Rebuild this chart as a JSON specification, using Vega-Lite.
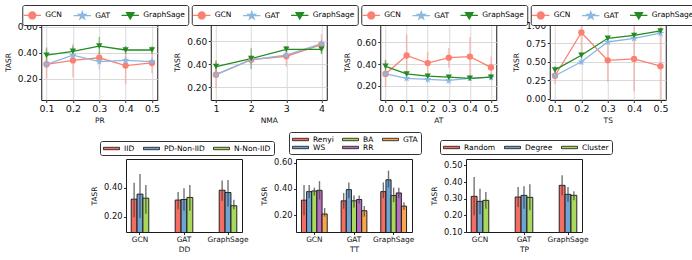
{
  "$schema": "https://vega.github.io/schema/vega-lite/v6.json",
  "padding": {"left": 3, "top": 4, "right": 0, "bottom": 0},
  "datasets": {
    "pr": [
      {"x":0.1,"m":"GCN","v":0.31,"lo":0.20,"hi":0.42},{"x":0.2,"m":"GCN","v":0.34,"lo":0.21,"hi":0.47},{"x":0.3,"m":"GCN","v":0.36,"lo":0.32,"hi":0.40},{"x":0.4,"m":"GCN","v":0.30,"lo":0.16,"hi":0.44},{"x":0.5,"m":"GCN","v":0.32,"lo":0.24,"hi":0.40},
      {"x":0.1,"m":"GAT","v":0.31,"lo":0.28,"hi":0.34},{"x":0.2,"m":"GAT","v":0.38,"lo":0.35,"hi":0.41},{"x":0.3,"m":"GAT","v":0.33,"lo":0.27,"hi":0.39},{"x":0.4,"m":"GAT","v":0.34,"lo":0.31,"hi":0.37},{"x":0.5,"m":"GAT","v":0.33,"lo":0.30,"hi":0.36},
      {"x":0.1,"m":"GraphSage","v":0.38,"lo":0.33,"hi":0.44},{"x":0.2,"m":"GraphSage","v":0.41,"lo":0.37,"hi":0.45},{"x":0.3,"m":"GraphSage","v":0.45,"lo":0.39,"hi":0.52},{"x":0.4,"m":"GraphSage","v":0.42,"lo":0.39,"hi":0.45},{"x":0.5,"m":"GraphSage","v":0.42,"lo":0.39,"hi":0.45}
    ],
    "nma": [
      {"x":1,"m":"GCN","v":0.31,"lo":0.19,"hi":0.43},{"x":2,"m":"GCN","v":0.44,"lo":0.40,"hi":0.48},{"x":3,"m":"GCN","v":0.47,"lo":0.38,"hi":0.56},{"x":4,"m":"GCN","v":0.57,"lo":0.49,"hi":0.66},
      {"x":1,"m":"GAT","v":0.31,"lo":0.29,"hi":0.33},{"x":2,"m":"GAT","v":0.44,"lo":0.41,"hi":0.47},{"x":3,"m":"GAT","v":0.48,"lo":0.45,"hi":0.51},{"x":4,"m":"GAT","v":0.58,"lo":0.55,"hi":0.61},
      {"x":1,"m":"GraphSage","v":0.38,"lo":0.33,"hi":0.43},{"x":2,"m":"GraphSage","v":0.45,"lo":0.36,"hi":0.54},{"x":3,"m":"GraphSage","v":0.53,"lo":0.50,"hi":0.56},{"x":4,"m":"GraphSage","v":0.53,"lo":0.49,"hi":0.57}
    ],
    "at": [
      {"x":0.0,"m":"GCN","v":0.31,"lo":0.19,"hi":0.43},{"x":0.1,"m":"GCN","v":0.48,"lo":0.30,"hi":0.67},{"x":0.2,"m":"GCN","v":0.41,"lo":0.31,"hi":0.51},{"x":0.3,"m":"GCN","v":0.46,"lo":0.37,"hi":0.55},{"x":0.4,"m":"GCN","v":0.47,"lo":0.28,"hi":0.65},{"x":0.5,"m":"GCN","v":0.37,"lo":0.27,"hi":0.47},
      {"x":0.0,"m":"GAT","v":0.31,"lo":0.28,"hi":0.34},{"x":0.1,"m":"GAT","v":0.27,"lo":0.24,"hi":0.30},{"x":0.2,"m":"GAT","v":0.26,"lo":0.23,"hi":0.29},{"x":0.3,"m":"GAT","v":0.25,"lo":0.22,"hi":0.28},{"x":0.4,"m":"GAT","v":0.27,"lo":0.25,"hi":0.30},{"x":0.5,"m":"GAT","v":0.28,"lo":0.25,"hi":0.31},
      {"x":0.0,"m":"GraphSage","v":0.38,"lo":0.33,"hi":0.44},{"x":0.1,"m":"GraphSage","v":0.31,"lo":0.29,"hi":0.33},{"x":0.2,"m":"GraphSage","v":0.29,"lo":0.27,"hi":0.31},{"x":0.3,"m":"GraphSage","v":0.28,"lo":0.26,"hi":0.30},{"x":0.4,"m":"GraphSage","v":0.27,"lo":0.25,"hi":0.29},{"x":0.5,"m":"GraphSage","v":0.28,"lo":0.26,"hi":0.31}
    ],
    "ts": [
      {"x":0.1,"m":"GCN","v":0.31,"lo":0.20,"hi":0.42},{"x":0.2,"m":"GCN","v":0.90,"lo":0.62,"hi":1.18},{"x":0.3,"m":"GCN","v":0.52,"lo":0.23,"hi":0.81},{"x":0.4,"m":"GCN","v":0.54,"lo":0.10,"hi":0.98},{"x":0.5,"m":"GCN","v":0.44,"lo":-0.10,"hi":0.98},
      {"x":0.1,"m":"GAT","v":0.31,"lo":0.28,"hi":0.34},{"x":0.2,"m":"GAT","v":0.50,"lo":0.45,"hi":0.55},{"x":0.3,"m":"GAT","v":0.77,"lo":0.74,"hi":0.80},{"x":0.4,"m":"GAT","v":0.82,"lo":0.79,"hi":0.85},{"x":0.5,"m":"GAT","v":0.89,"lo":0.86,"hi":0.92},
      {"x":0.1,"m":"GraphSage","v":0.39,"lo":0.34,"hi":0.44},{"x":0.2,"m":"GraphSage","v":0.59,"lo":0.55,"hi":0.63},{"x":0.3,"m":"GraphSage","v":0.82,"lo":0.79,"hi":0.85},{"x":0.4,"m":"GraphSage","v":0.86,"lo":0.82,"hi":0.90},{"x":0.5,"m":"GraphSage","v":0.92,"lo":0.89,"hi":0.95}
    ],
    "dd": [
      {"model":"GCN","t":"IID","v":0.32,"lo":0.195,"hi":0.434},{"model":"GCN","t":"PD-Non-IID","v":0.355,"lo":0.19,"hi":0.495},{"model":"GCN","t":"N-Non-IID","v":0.327,"lo":0.22,"hi":0.418},
      {"model":"GAT","t":"IID","v":0.314,"lo":0.25,"hi":0.37},{"model":"GAT","t":"PD-Non-IID","v":0.318,"lo":0.24,"hi":0.395},{"model":"GAT","t":"N-Non-IID","v":0.332,"lo":0.24,"hi":0.418},
      {"model":"GraphSage","t":"IID","v":0.382,"lo":0.31,"hi":0.45},{"model":"GraphSage","t":"PD-Non-IID","v":0.366,"lo":0.27,"hi":0.452},{"model":"GraphSage","t":"N-Non-IID","v":0.275,"lo":0.25,"hi":0.316}
    ],
    "tt": [
      {"model":"GCN","t":"Renyi","v":0.315,"lo":0.20,"hi":0.43},{"model":"GCN","t":"WS","v":0.38,"lo":0.33,"hi":0.43},{"model":"GCN","t":"BA","v":0.385,"lo":0.35,"hi":0.41},{"model":"GCN","t":"RR","v":0.39,"lo":0.32,"hi":0.46},{"model":"GCN","t":"GTA","v":0.21,"lo":0.19,"hi":0.255},
      {"model":"GAT","t":"Renyi","v":0.31,"lo":0.25,"hi":0.37},{"model":"GAT","t":"WS","v":0.395,"lo":0.33,"hi":0.45},{"model":"GAT","t":"BA","v":0.31,"lo":0.26,"hi":0.35},{"model":"GAT","t":"RR","v":0.32,"lo":0.29,"hi":0.35},{"model":"GAT","t":"GTA","v":0.235,"lo":0.19,"hi":0.27},
      {"model":"GraphSage","t":"Renyi","v":0.38,"lo":0.33,"hi":0.45},{"model":"GraphSage","t":"WS","v":0.47,"lo":0.41,"hi":0.54},{"model":"GraphSage","t":"BA","v":0.35,"lo":0.30,"hi":0.41},{"model":"GraphSage","t":"RR","v":0.37,"lo":0.33,"hi":0.41},{"model":"GraphSage","t":"GTA","v":0.27,"lo":0.24,"hi":0.30}
    ],
    "tp": [
      {"model":"GCN","t":"Random","v":0.314,"lo":0.20,"hi":0.43},{"model":"GCN","t":"Degree","v":0.284,"lo":0.206,"hi":0.36},{"model":"GCN","t":"Cluster","v":0.29,"lo":0.24,"hi":0.34},
      {"model":"GAT","t":"Random","v":0.31,"lo":0.25,"hi":0.37},{"model":"GAT","t":"Degree","v":0.32,"lo":0.24,"hi":0.374},{"model":"GAT","t":"Cluster","v":0.308,"lo":0.23,"hi":0.386},
      {"model":"GraphSage","t":"Random","v":0.38,"lo":0.32,"hi":0.44},{"model":"GraphSage","t":"Degree","v":0.326,"lo":0.28,"hi":0.37},{"model":"GraphSage","t":"Cluster","v":0.32,"lo":0.29,"hi":0.344}
    ]
  },
  "vconcat": [
    {
      "hconcat": [
        {
          "width": 116, "height": 76, "data": {"name": "pr"},
          "encoding": {
            "x": {"field": "x", "type": "quantitative", "scale": {"domain": [0.08, 0.52], "nice": false, "zero": false}, "axis": {"title": "PR", "values": [0.1,0.2,0.3,0.4,0.5], "format": ".1f", "labelFontSize": 9.5, "titleFontSize": 7.5, "grid": true}},
            "color": {"field": "m", "type": "nominal", "scale": {"domain": ["GCN","GAT","GraphSage"], "range": ["#fa8072","#8ab8e0","#228b22"]},
              "legend": {"orient": "none", "legendX": -19, "legendY": -19, "direction": "horizontal", "title": null, "labelFontSize": 7.5, "symbolSize": 144, "labelOffset": 6, "columnPadding": 8, "padding": 3, "strokeColor": "#333", "fillColor": "white", "cornerRadius": 2,
                "encode": {"symbols": {"update": {
                  "shape": {"signal": "datum.value === 'GCN' ? 'M-1.45,0H1.45M0.58,0A0.58,0.58 0 1,1 -0.58,0A0.58,0.58 0 1,1 0.58,0Z' : datum.value === 'GAT' ? 'M-1.45,0H1.45M0,-0.65L0.153,-0.211L0.618,-0.201L0.247,0.081L0.382,0.526L0,0.26L-0.382,0.526L-0.247,0.081L-0.618,-0.201L-0.153,-0.211Z' : 'M-1.45,0H1.45M-0.62,-0.45L0.62,-0.45L0,0.62Z'"},
                  "fill": {"signal": "datum.value === 'GCN' ? '#fa8072' : datum.value === 'GAT' ? '#8ab8e0' : '#228b22'"},
                  "stroke": {"signal": "datum.value === 'GCN' ? '#fa8072' : datum.value === 'GAT' ? '#8ab8e0' : '#228b22'"},
                  "strokeWidth": {"value": 1.3}, "opacity": {"value": 1}}}}}}
          },
          "layer": [
            {"mark": {"type": "rule", "strokeWidth": 1.5, "opacity": 0.45, "clip": true}, "encoding": {"y": {"field": "lo", "type": "quantitative", "scale": {"domain": [0.035, 0.62], "nice": false, "zero": false}, "axis": {"title": "TASR", "values": [0.2,0.4,0.6], "format": ".2f", "labelFontSize": 9, "titleFontSize": 7.5, "grid": true}}, "y2": {"field": "hi"}}},
            {"mark": {"type": "line", "strokeWidth": 1.3}, "encoding": {"y": {"field": "v", "type": "quantitative", "scale": {"domain": [0.035, 0.62], "nice": false, "zero": false}, "axis": {"title": "TASR", "values": [0.2,0.4,0.6], "format": ".2f", "labelFontSize": 9, "titleFontSize": 7.5, "grid": true}}}},
            {"transform": [{"filter": "datum.m === 'GCN'"}], "mark": {"type": "point", "filled": true, "size": 40, "opacity": 1, "shape": "circle"}, "encoding": {"y": {"field": "v", "type": "quantitative", "scale": {"domain": [0.035, 0.62], "nice": false, "zero": false}, "axis": {"title": "TASR", "values": [0.2,0.4,0.6], "format": ".2f", "labelFontSize": 9, "titleFontSize": 7.5, "grid": true}}}},
            {"transform": [{"filter": "datum.m === 'GAT'"}], "mark": {"type": "point", "filled": true, "size": 40, "opacity": 1, "shape": "M0,-1.25L0.294,-0.405L1.189,-0.386L0.475,0.155L0.735,1.011L0,0.5L-0.735,1.011L-0.475,0.155L-1.189,-0.386L-0.294,-0.405Z"}, "encoding": {"y": {"field": "v", "type": "quantitative", "scale": {"domain": [0.035, 0.62], "nice": false, "zero": false}, "axis": {"title": "TASR", "values": [0.2,0.4,0.6], "format": ".2f", "labelFontSize": 9, "titleFontSize": 7.5, "grid": true}}}},
            {"transform": [{"filter": "datum.m === 'GraphSage'"}], "mark": {"type": "point", "filled": true, "size": 40, "opacity": 1, "shape": "triangle-down"}, "encoding": {"y": {"field": "v", "type": "quantitative", "scale": {"domain": [0.035, 0.62], "nice": false, "zero": false}, "axis": {"title": "TASR", "values": [0.2,0.4,0.6], "format": ".2f", "labelFontSize": 9, "titleFontSize": 7.5, "grid": true}}}}
          ]
        },
        {
          "width": 116, "height": 76, "data": {"name": "nma"},
          "encoding": {
            "x": {"field": "x", "type": "quantitative", "scale": {"domain": [0.85, 4.15], "nice": false, "zero": false}, "axis": {"title": "NMA", "values": [1,2,3,4], "format": "d", "labelFontSize": 9.5, "titleFontSize": 7.5, "grid": true}},
            "color": {"field": "m", "type": "nominal", "scale": {"domain": ["GCN","GAT","GraphSage"], "range": ["#fa8072","#8ab8e0","#228b22"]},
              "legend": {"orient": "none", "legendX": -19, "legendY": -19, "direction": "horizontal", "title": null, "labelFontSize": 7.5, "symbolSize": 144, "labelOffset": 6, "columnPadding": 8, "padding": 3, "strokeColor": "#333", "fillColor": "white", "cornerRadius": 2,
                "encode": {"symbols": {"update": {
                  "shape": {"signal": "datum.value === 'GCN' ? 'M-1.45,0H1.45M0.58,0A0.58,0.58 0 1,1 -0.58,0A0.58,0.58 0 1,1 0.58,0Z' : datum.value === 'GAT' ? 'M-1.45,0H1.45M0,-0.65L0.153,-0.211L0.618,-0.201L0.247,0.081L0.382,0.526L0,0.26L-0.382,0.526L-0.247,0.081L-0.618,-0.201L-0.153,-0.211Z' : 'M-1.45,0H1.45M-0.62,-0.45L0.62,-0.45L0,0.62Z'"},
                  "fill": {"signal": "datum.value === 'GCN' ? '#fa8072' : datum.value === 'GAT' ? '#8ab8e0' : '#228b22'"},
                  "stroke": {"signal": "datum.value === 'GCN' ? '#fa8072' : datum.value === 'GAT' ? '#8ab8e0' : '#228b22'"},
                  "strokeWidth": {"value": 1.3}, "opacity": {"value": 1}}}}}}
          },
          "layer": [
            {"mark": {"type": "rule", "strokeWidth": 1.5, "opacity": 0.45, "clip": true}, "encoding": {"y": {"field": "lo", "type": "quantitative", "scale": {"domain": [0.09, 0.75], "nice": false, "zero": false}, "axis": {"title": "TASR", "values": [0.2,0.4,0.6], "format": ".2f", "labelFontSize": 9, "titleFontSize": 7.5, "grid": true}}, "y2": {"field": "hi"}}},
            {"mark": {"type": "line", "strokeWidth": 1.3}, "encoding": {"y": {"field": "v", "type": "quantitative", "scale": {"domain": [0.09, 0.75], "nice": false, "zero": false}, "axis": {"title": "TASR", "values": [0.2,0.4,0.6], "format": ".2f", "labelFontSize": 9, "titleFontSize": 7.5, "grid": true}}}},
            {"transform": [{"filter": "datum.m === 'GCN'"}], "mark": {"type": "point", "filled": true, "size": 40, "opacity": 1, "shape": "circle"}, "encoding": {"y": {"field": "v", "type": "quantitative", "scale": {"domain": [0.09, 0.75], "nice": false, "zero": false}, "axis": {"title": "TASR", "values": [0.2,0.4,0.6], "format": ".2f", "labelFontSize": 9, "titleFontSize": 7.5, "grid": true}}}},
            {"transform": [{"filter": "datum.m === 'GAT'"}], "mark": {"type": "point", "filled": true, "size": 40, "opacity": 1, "shape": "M0,-1.25L0.294,-0.405L1.189,-0.386L0.475,0.155L0.735,1.011L0,0.5L-0.735,1.011L-0.475,0.155L-1.189,-0.386L-0.294,-0.405Z"}, "encoding": {"y": {"field": "v", "type": "quantitative", "scale": {"domain": [0.09, 0.75], "nice": false, "zero": false}, "axis": {"title": "TASR", "values": [0.2,0.4,0.6], "format": ".2f", "labelFontSize": 9, "titleFontSize": 7.5, "grid": true}}}},
            {"transform": [{"filter": "datum.m === 'GraphSage'"}], "mark": {"type": "point", "filled": true, "size": 40, "opacity": 1, "shape": "triangle-down"}, "encoding": {"y": {"field": "v", "type": "quantitative", "scale": {"domain": [0.09, 0.75], "nice": false, "zero": false}, "axis": {"title": "TASR", "values": [0.2,0.4,0.6], "format": ".2f", "labelFontSize": 9, "titleFontSize": 7.5, "grid": true}}}}
          ]
        },
        {
          "width": 116, "height": 76, "data": {"name": "at"},
          "encoding": {
            "x": {"field": "x", "type": "quantitative", "scale": {"domain": [-0.025, 0.525], "nice": false, "zero": false}, "axis": {"title": "AT", "values": [0,0.1,0.2,0.3,0.4,0.5], "format": ".1f", "labelFontSize": 9.5, "titleFontSize": 7.5, "grid": true}},
            "color": {"field": "m", "type": "nominal", "scale": {"domain": ["GCN","GAT","GraphSage"], "range": ["#fa8072","#8ab8e0","#228b22"]},
              "legend": {"orient": "none", "legendX": -19, "legendY": -19, "direction": "horizontal", "title": null, "labelFontSize": 7.5, "symbolSize": 144, "labelOffset": 6, "columnPadding": 8, "padding": 3, "strokeColor": "#333", "fillColor": "white", "cornerRadius": 2,
                "encode": {"symbols": {"update": {
                  "shape": {"signal": "datum.value === 'GCN' ? 'M-1.45,0H1.45M0.58,0A0.58,0.58 0 1,1 -0.58,0A0.58,0.58 0 1,1 0.58,0Z' : datum.value === 'GAT' ? 'M-1.45,0H1.45M0,-0.65L0.153,-0.211L0.618,-0.201L0.247,0.081L0.382,0.526L0,0.26L-0.382,0.526L-0.247,0.081L-0.618,-0.201L-0.153,-0.211Z' : 'M-1.45,0H1.45M-0.62,-0.45L0.62,-0.45L0,0.62Z'"},
                  "fill": {"signal": "datum.value === 'GCN' ? '#fa8072' : datum.value === 'GAT' ? '#8ab8e0' : '#228b22'"},
                  "stroke": {"signal": "datum.value === 'GCN' ? '#fa8072' : datum.value === 'GAT' ? '#8ab8e0' : '#228b22'"},
                  "strokeWidth": {"value": 1.3}, "opacity": {"value": 1}}}}}}
          },
          "layer": [
            {"mark": {"type": "rule", "strokeWidth": 1.5, "opacity": 0.45, "clip": true}, "encoding": {"y": {"field": "lo", "type": "quantitative", "scale": {"domain": [0.07, 0.77], "nice": false, "zero": false}, "axis": {"title": "TASR", "values": [0.2,0.4,0.6], "format": ".2f", "labelFontSize": 9, "titleFontSize": 7.5, "grid": true}}, "y2": {"field": "hi"}}},
            {"mark": {"type": "line", "strokeWidth": 1.3}, "encoding": {"y": {"field": "v", "type": "quantitative", "scale": {"domain": [0.07, 0.77], "nice": false, "zero": false}, "axis": {"title": "TASR", "values": [0.2,0.4,0.6], "format": ".2f", "labelFontSize": 9, "titleFontSize": 7.5, "grid": true}}}},
            {"transform": [{"filter": "datum.m === 'GCN'"}], "mark": {"type": "point", "filled": true, "size": 40, "opacity": 1, "shape": "circle"}, "encoding": {"y": {"field": "v", "type": "quantitative", "scale": {"domain": [0.07, 0.77], "nice": false, "zero": false}, "axis": {"title": "TASR", "values": [0.2,0.4,0.6], "format": ".2f", "labelFontSize": 9, "titleFontSize": 7.5, "grid": true}}}},
            {"transform": [{"filter": "datum.m === 'GAT'"}], "mark": {"type": "point", "filled": true, "size": 40, "opacity": 1, "shape": "M0,-1.25L0.294,-0.405L1.189,-0.386L0.475,0.155L0.735,1.011L0,0.5L-0.735,1.011L-0.475,0.155L-1.189,-0.386L-0.294,-0.405Z"}, "encoding": {"y": {"field": "v", "type": "quantitative", "scale": {"domain": [0.07, 0.77], "nice": false, "zero": false}, "axis": {"title": "TASR", "values": [0.2,0.4,0.6], "format": ".2f", "labelFontSize": 9, "titleFontSize": 7.5, "grid": true}}}},
            {"transform": [{"filter": "datum.m === 'GraphSage'"}], "mark": {"type": "point", "filled": true, "size": 40, "opacity": 1, "shape": "triangle-down"}, "encoding": {"y": {"field": "v", "type": "quantitative", "scale": {"domain": [0.07, 0.77], "nice": false, "zero": false}, "axis": {"title": "TASR", "values": [0.2,0.4,0.6], "format": ".2f", "labelFontSize": 9, "titleFontSize": 7.5, "grid": true}}}}
          ]
        },
        {
          "width": 116, "height": 76, "data": {"name": "ts"},
          "encoding": {
            "x": {"field": "x", "type": "quantitative", "scale": {"domain": [0.08, 0.52], "nice": false, "zero": false}, "axis": {"title": "TS", "values": [0.1,0.2,0.3,0.4,0.5], "format": ".1f", "labelFontSize": 9.5, "titleFontSize": 7.5, "grid": true}},
            "color": {"field": "m", "type": "nominal", "scale": {"domain": ["GCN","GAT","GraphSage"], "range": ["#fa8072","#8ab8e0","#228b22"]},
              "legend": {"orient": "none", "legendX": -19, "legendY": -19, "direction": "horizontal", "title": null, "labelFontSize": 7.5, "symbolSize": 144, "labelOffset": 6, "columnPadding": 8, "padding": 3, "strokeColor": "#333", "fillColor": "white", "cornerRadius": 2,
                "encode": {"symbols": {"update": {
                  "shape": {"signal": "datum.value === 'GCN' ? 'M-1.45,0H1.45M0.58,0A0.58,0.58 0 1,1 -0.58,0A0.58,0.58 0 1,1 0.58,0Z' : datum.value === 'GAT' ? 'M-1.45,0H1.45M0,-0.65L0.153,-0.211L0.618,-0.201L0.247,0.081L0.382,0.526L0,0.26L-0.382,0.526L-0.247,0.081L-0.618,-0.201L-0.153,-0.211Z' : 'M-1.45,0H1.45M-0.62,-0.45L0.62,-0.45L0,0.62Z'"},
                  "fill": {"signal": "datum.value === 'GCN' ? '#fa8072' : datum.value === 'GAT' ? '#8ab8e0' : '#228b22'"},
                  "stroke": {"signal": "datum.value === 'GCN' ? '#fa8072' : datum.value === 'GAT' ? '#8ab8e0' : '#228b22'"},
                  "strokeWidth": {"value": 1.3}, "opacity": {"value": 1}}}}}}
          },
          "layer": [
            {"mark": {"type": "rule", "strokeWidth": 1.5, "opacity": 0.45, "clip": true}, "encoding": {"y": {"field": "lo", "type": "quantitative", "scale": {"domain": [-0.02, 1.015], "nice": false, "zero": false}, "axis": {"title": "TASR", "values": [0,0.25,0.5,0.75,1], "format": ".2f", "labelFontSize": 9, "titleFontSize": 7.5, "grid": true}}, "y2": {"field": "hi"}}},
            {"mark": {"type": "line", "strokeWidth": 1.3}, "encoding": {"y": {"field": "v", "type": "quantitative", "scale": {"domain": [-0.02, 1.015], "nice": false, "zero": false}, "axis": {"title": "TASR", "values": [0,0.25,0.5,0.75,1], "format": ".2f", "labelFontSize": 9, "titleFontSize": 7.5, "grid": true}}}},
            {"transform": [{"filter": "datum.m === 'GCN'"}], "mark": {"type": "point", "filled": true, "size": 40, "opacity": 1, "shape": "circle"}, "encoding": {"y": {"field": "v", "type": "quantitative", "scale": {"domain": [-0.02, 1.015], "nice": false, "zero": false}, "axis": {"title": "TASR", "values": [0,0.25,0.5,0.75,1], "format": ".2f", "labelFontSize": 9, "titleFontSize": 7.5, "grid": true}}}},
            {"transform": [{"filter": "datum.m === 'GAT'"}], "mark": {"type": "point", "filled": true, "size": 40, "opacity": 1, "shape": "M0,-1.25L0.294,-0.405L1.189,-0.386L0.475,0.155L0.735,1.011L0,0.5L-0.735,1.011L-0.475,0.155L-1.189,-0.386L-0.294,-0.405Z"}, "encoding": {"y": {"field": "v", "type": "quantitative", "scale": {"domain": [-0.02, 1.015], "nice": false, "zero": false}, "axis": {"title": "TASR", "values": [0,0.25,0.5,0.75,1], "format": ".2f", "labelFontSize": 9, "titleFontSize": 7.5, "grid": true}}}},
            {"transform": [{"filter": "datum.m === 'GraphSage'"}], "mark": {"type": "point", "filled": true, "size": 40, "opacity": 1, "shape": "triangle-down"}, "encoding": {"y": {"field": "v", "type": "quantitative", "scale": {"domain": [-0.02, 1.015], "nice": false, "zero": false}, "axis": {"title": "TASR", "values": [0,0.25,0.5,0.75,1], "format": ".2f", "labelFontSize": 9, "titleFontSize": 7.5, "grid": true}}}}
          ]
        }
      ],
      "spacing": 53.5, "bounds": "flush",
      "resolve": {"scale": {"x": "independent", "y": "independent", "color": "independent"}, "legend": {"color": "independent"}}
    },
    {
      "hconcat": [
        {
          "width": 116, "height": 73, "data": {"name": "dd"},
          "encoding": {
            "x": {"field": "model", "type": "nominal", "sort": ["GCN","GAT","GraphSage"], "scale": {"paddingInner": 0.6, "paddingOuter": 0.118}, "axis": {"title": "DD", "labelAngle": 0, "labelFontSize": 7.4, "titleFontSize": 7.5, "grid": false}},
            "xOffset": {"field": "t", "type": "nominal", "sort": ["IID","PD-Non-IID","N-Non-IID"], "scale": {"paddingInner": 0, "paddingOuter": 0}},
            "color": {"field": "t", "type": "nominal", "scale": {"domain": ["IID","PD-Non-IID","N-Non-IID"], "range": ["#f46d63","#6fa3d2","#a8d85c"]},
              "legend": {"orient": "none", "legendX": -26, "legendY": -18, "direction": "horizontal", "title": null, "labelFontSize": 7.5, "symbolSize": 64, "symbolType": "M-2,-0.3H2V0.3H-2Z", "symbolStrokeColor": "#111", "symbolStrokeWidth": 0.8, "symbolOffset": 4, "labelOffset": 8, "columnPadding": 6, "padding": 3, "strokeColor": "#333", "fillColor": "white", "cornerRadius": 2}}
          },
          "layer": [
            {"mark": {"type": "bar", "stroke": "#111", "strokeWidth": 0.9, "clip": true}, "encoding": {"y": {"field": "v", "type": "quantitative", "scale": {"domain": [0.093, 0.598], "nice": false, "zero": false}, "axis": {"title": "TASR", "values": [0.2,0.4], "format": ".2f", "labelFontSize": 8.3, "titleFontSize": 7.5, "grid": false}}}},
            {"mark": {"type": "rule", "strokeWidth": 1.4, "opacity": 0.75}, "encoding": {"color": {"value": "#444"}, "y": {"field": "lo", "type": "quantitative", "scale": {"domain": [0.093, 0.598], "nice": false, "zero": false}, "axis": {"title": "TASR", "values": [0.2,0.4], "format": ".2f", "labelFontSize": 8.3, "titleFontSize": 7.5, "grid": false}}, "y2": {"field": "hi"}}}
          ]
        },
        {
          "width": 116, "height": 73, "data": {"name": "tt"},
          "encoding": {
            "x": {"field": "model", "type": "nominal", "sort": ["GCN","GAT","GraphSage"], "scale": {"paddingInner": 0.35, "paddingOuter": 0.1375}, "axis": {"title": "TT", "labelAngle": 0, "labelFontSize": 7.4, "titleFontSize": 7.5, "grid": false}},
            "xOffset": {"field": "t", "type": "nominal", "sort": ["Renyi","WS","BA","RR","GTA"], "scale": {"paddingInner": 0, "paddingOuter": 0}},
            "color": {"field": "t", "type": "nominal", "scale": {"domain": ["Renyi","BA","GTA","WS","RR"], "range": ["#f46d63","#a8d85c","#f8a84b","#6fa3d2","#b96dbf"]},
              "legend": {"orient": "none", "legendX": -7, "legendY": -27, "direction": "horizontal", "columns": 3, "title": null, "labelFontSize": 7.5, "symbolSize": 64, "symbolType": "M-2,-0.3H2V0.3H-2Z", "symbolStrokeColor": "#111", "symbolStrokeWidth": 0.8, "symbolOffset": 4, "labelOffset": 8, "columnPadding": 6, "rowPadding": 0, "padding": 3, "strokeColor": "#333", "fillColor": "white", "cornerRadius": 2}}
          },
          "layer": [
            {"mark": {"type": "bar", "stroke": "#111", "strokeWidth": 0.9, "clip": true}, "encoding": {"y": {"field": "v", "type": "quantitative", "scale": {"domain": [0.073, 0.628], "nice": false, "zero": false}, "axis": {"title": "TASR", "values": [0.2,0.4,0.6], "format": ".2f", "labelFontSize": 8.3, "titleFontSize": 7.5, "grid": false}}}},
            {"mark": {"type": "rule", "strokeWidth": 1.4, "opacity": 0.75}, "encoding": {"color": {"value": "#444"}, "y": {"field": "lo", "type": "quantitative", "scale": {"domain": [0.073, 0.628], "nice": false, "zero": false}, "axis": {"title": "TASR", "values": [0.2,0.4,0.6], "format": ".2f", "labelFontSize": 8.3, "titleFontSize": 7.5, "grid": false}}, "y2": {"field": "hi"}}}
          ]
        },
        {
          "width": 116, "height": 73, "data": {"name": "tp"},
          "encoding": {
            "x": {"field": "model", "type": "nominal", "sort": ["GCN","GAT","GraphSage"], "scale": {"paddingInner": 0.6, "paddingOuter": 0.118}, "axis": {"title": "TP", "labelAngle": 0, "labelFontSize": 7.4, "titleFontSize": 7.5, "grid": false}},
            "xOffset": {"field": "t", "type": "nominal", "sort": ["Random","Degree","Cluster"], "scale": {"paddingInner": 0, "paddingOuter": 0}},
            "color": {"field": "t", "type": "nominal", "scale": {"domain": ["Random","Degree","Cluster"], "range": ["#f46d63","#6fa3d2","#a8d85c"]},
              "legend": {"orient": "none", "legendX": -26, "legendY": -19, "direction": "horizontal", "title": null, "labelFontSize": 7.5, "symbolSize": 64, "symbolType": "M-2,-0.3H2V0.3H-2Z", "symbolStrokeColor": "#111", "symbolStrokeWidth": 0.8, "symbolOffset": 4, "labelOffset": 8, "columnPadding": 6, "padding": 3, "strokeColor": "#333", "fillColor": "white", "cornerRadius": 2}}
          },
          "layer": [
            {"mark": {"type": "bar", "stroke": "#111", "strokeWidth": 0.9, "clip": true}, "encoding": {"y": {"field": "v", "type": "quantitative", "scale": {"domain": [0.1, 0.538], "nice": false, "zero": false}, "axis": {"title": "TASR", "values": [0.1,0.2,0.3,0.4,0.5], "format": ".2f", "labelFontSize": 8.3, "titleFontSize": 7.5, "grid": false}}}},
            {"mark": {"type": "rule", "strokeWidth": 1.4, "opacity": 0.75}, "encoding": {"color": {"value": "#444"}, "y": {"field": "lo", "type": "quantitative", "scale": {"domain": [0.1, 0.538], "nice": false, "zero": false}, "axis": {"title": "TASR", "values": [0.1,0.2,0.3,0.4,0.5], "format": ".2f", "labelFontSize": 8.3, "titleFontSize": 7.5, "grid": false}}, "y2": {"field": "hi"}}}
          ]
        }
      ],
      "spacing": 54, "bounds": "flush",
      "resolve": {"scale": {"x": "independent", "y": "independent", "color": "independent", "xOffset": "independent"}, "legend": {"color": "independent"}}
    }
  ],
  "spacing": 7, "center": true,
  "resolve": {"scale": {"x": "independent", "y": "independent", "color": "independent", "xOffset": "independent"}, "legend": {"color": "independent"}},
  "config": {
    "font": "DejaVu Sans",
    "view": {"stroke": "#1a1a1a", "strokeWidth": 1},
    "axis": {"domain": false, "labelOverlap": false, "tickColor": "#1a1a1a", "tickSize": 2.5, "tickWidth": 0.9, "labelColor": "#111", "titleColor": "#111", "titleFontWeight": "normal", "gridColor": "#d9d9d9", "gridWidth": 1},
    "axisX": {"labelPadding": 1, "titlePadding": 3},
    "axisY": {"labelPadding": 1.5, "titlePadding": 5}
  }
}
